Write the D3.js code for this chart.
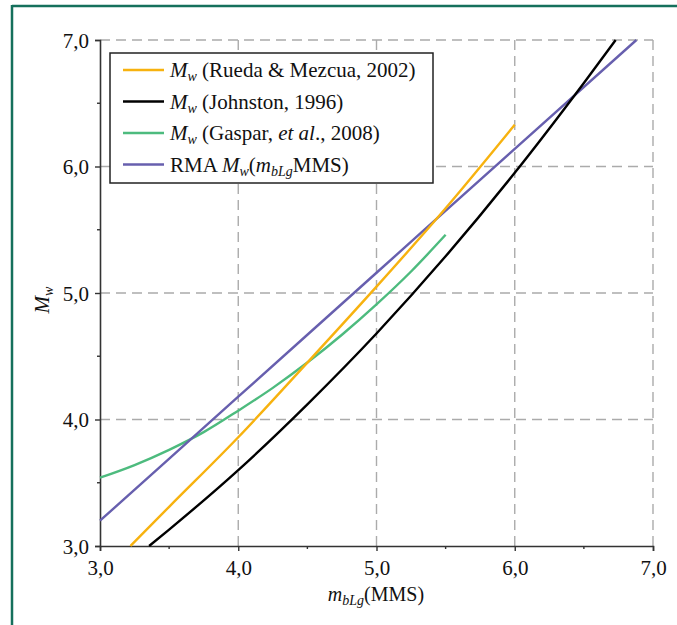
<!DOCTYPE html>
<html><head><meta charset="utf-8">
<script src="https://cdn.jsdelivr.net/npm/d3@7"></script>
<style>
html,body{margin:0;padding:0;background:#fff;}
svg text{font-family:"Liberation Serif","Times New Roman",serif;fill:#111;}
</style></head>
<body><svg id="chart" width="677" height="625"></svg>
<script>
// ---- data ----
const ruedaX = [3.22, 3.5, 4.0, 4.5, 5.0, 5.5, 6.0];
const ruedaY = [3.00, 3.31, 3.86, 4.45, 5.05, 5.67, 6.33];
const johnstonX = [3.355, 3.5, 4.0, 4.5, 5.0, 5.5, 6.0, 6.5, 6.73];
const johnstonY = [3.00, 3.13, 3.60, 4.12, 4.68, 5.29, 5.95, 6.66, 7.00];
const gasparX = [3.0, 3.25, 3.5, 3.75, 4.0, 4.25, 4.5, 4.75, 5.0, 5.25, 5.5];
const gasparY = [3.54, 3.64, 3.76, 3.90, 4.07, 4.25, 4.45, 4.67, 4.91, 5.17, 5.46];
const rmaX = [3.0, 4.0, 5.0, 6.0, 6.88];
const rmaY = [3.20, 4.18, 5.16, 6.14, 7.00];
const xTicks = [3, 4, 5, 6, 7];
const yTicks = [3, 4, 5, 6, 7];
const xMinor = [3.5, 4.5, 5.5, 6.5];
const yMinor = [3.5, 4.5, 5.5, 6.5];
const fmt = v => v.toFixed(1).replace('.', ',');

const series = [
  {name: "Rueda & Mezcua, 2002", xs: ruedaX, ys: ruedaY, color: "#f7b20f"},
  {name: "Johnston, 1996", xs: johnstonX, ys: johnstonY, color: "#000000"},
  {name: "Gaspar", xs: gasparX, ys: gasparY, color: "#4dbb7e"},
  {name: "RMA", xs: rmaX, ys: rmaY, color: "#675fae"}
];

const svg = d3.select("#chart");
const x = d3.scaleLinear().domain([3, 7]).range([100, 653]);
const y = d3.scaleLinear().domain([3, 7]).range([546, 40]);

// frame border (teal, top and left)
svg.append("line").attr("x1", 12).attr("x2", 677).attr("y1", 6).attr("y2", 6)
  .attr("stroke", "#15705c").attr("stroke-width", 2.5);
svg.append("line").attr("x1", 12).attr("x2", 12).attr("y1", 5).attr("y2", 625)
  .attr("stroke", "#15705c").attr("stroke-width", 2.5);

// gridlines
const grid = svg.append("g").attr("stroke", "#ababab").attr("stroke-width", 1.4)
  .attr("stroke-dasharray", "10,6");
grid.selectAll(".gx").data(xTicks.slice(1)).join("line")
  .attr("x1", d => x(d)).attr("x2", d => x(d)).attr("y1", y(3)).attr("y2", y(7));
grid.selectAll(".gy").data(yTicks.slice(1)).join("line")
  .attr("x1", x(3)).attr("x2", x(7)).attr("y1", d => y(d)).attr("y2", d => y(d));

// axes
const xAxis = d3.axisBottom(x).tickValues(xTicks).tickFormat(fmt).tickSize(5).tickPadding(9);
const yAxis = d3.axisLeft(y).tickValues(yTicks).tickFormat(fmt).tickSize(5).tickPadding(6);
const gx = svg.append("g").attr("transform", `translate(0,${y(3)})`).call(xAxis);
const gy = svg.append("g").attr("transform", `translate(${x(3)},0)`).call(yAxis);
[gx, gy].forEach(g => {
  g.select(".domain").attr("stroke", "#333").attr("stroke-width", 1.6);
  g.selectAll(".tick line").attr("stroke", "#333").attr("stroke-width", 1.4);
  g.selectAll(".tick text").attr("font-family", '"Liberation Serif",serif')
    .attr("font-size", 21).attr("fill", "#111");
});
gy.selectAll(".tick text").attr("dy", "0.34em");
// minor ticks
svg.append("g").selectAll("line").data(xMinor).join("line")
  .attr("x1", d => x(d)).attr("x2", d => x(d)).attr("y1", y(3)).attr("y2", y(3) + 3)
  .attr("stroke", "#333").attr("stroke-width", 1.4);
svg.append("g").selectAll("line").data(yMinor).join("line")
  .attr("x1", x(3) - 3).attr("x2", x(3)).attr("y1", d => y(d)).attr("y2", d => y(d))
  .attr("stroke", "#333").attr("stroke-width", 1.4);

// curves
const line = d3.line().x(d => x(d[0])).y(d => y(d[1])).curve(d3.curveMonotoneX);
[2, 3, 0, 1].forEach(i => {
  const s = series[i];
  svg.append("path").datum(s.xs.map((v, j) => [v, s.ys[j]]))
    .attr("d", line).attr("fill", "none").attr("stroke", s.color)
    .attr("stroke-width", 2.4).attr("stroke-linejoin", "round");
});

// axis titles
const xt = svg.append("text").attr("x", 376).attr("y", 601).attr("text-anchor", "middle")
  .attr("font-size", 20);
xt.append("tspan").attr("font-style", "italic").text("m");
xt.append("tspan").attr("font-style", "italic").attr("font-size", 14).attr("dy", 4).text("bLg");
xt.append("tspan").attr("dy", -4).text("(MMS)");

const yt = svg.append("text").attr("transform", "translate(49,300) rotate(-90)")
  .attr("text-anchor", "middle").attr("font-size", 21);
yt.append("tspan").attr("font-style", "italic").text("M");
yt.append("tspan").attr("font-style", "italic").attr("font-size", 14).attr("dy", 4).text("w");

// legend
const lg = svg.append("g");
lg.append("rect").attr("x", 110).attr("y", 53).attr("width", 323).attr("height", 130)
  .attr("fill", "#fff").attr("stroke", "#222").attr("stroke-width", 1.5);
series.forEach((s, i) => {
  const ly = 70 + i * 31.5;
  lg.append("line").attr("x1", 123).attr("x2", 164).attr("y1", ly).attr("y2", ly)
    .attr("stroke", s.color).attr("stroke-width", 2.4);
  const t = lg.append("text").attr("x", 170).attr("y", ly + 7).attr("font-size", 21);
  if (i < 3) {
    t.append("tspan").attr("font-style", "italic").text("M");
    t.append("tspan").attr("font-style", "italic").attr("font-size", 14).attr("dy", 4).text("w");
    if (i < 2) {
      t.append("tspan").attr("dy", -4).text(" (" + s.name + ")");
    } else {
      t.append("tspan").attr("dy", -4).text(" (Gaspar, ");
      t.append("tspan").attr("font-style", "italic").text("et al");
      t.append("tspan").text("., 2008)");
    }
  } else {
    t.append("tspan").text("RMA ");
    t.append("tspan").attr("font-style", "italic").text("M");
    t.append("tspan").attr("font-style", "italic").attr("font-size", 14).attr("dy", 4).text("w");
    t.append("tspan").attr("dy", -4).text("(");
    t.append("tspan").attr("font-style", "italic").text("m");
    t.append("tspan").attr("font-style", "italic").attr("font-size", 14).attr("dy", 4).text("bLg");
    t.append("tspan").attr("dy", -4).text("MMS)");
  }
});
</script></body></html>
